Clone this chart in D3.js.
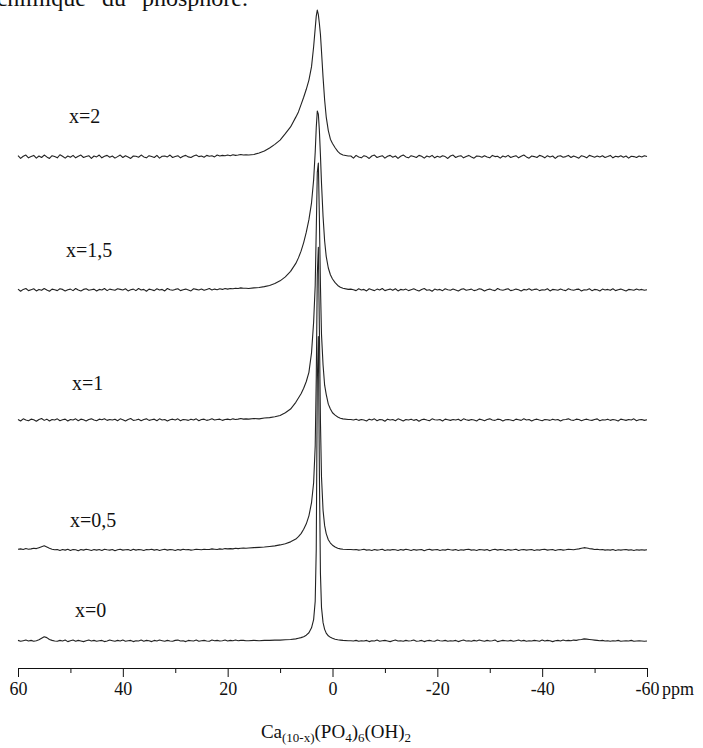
<!DOCTYPE html>
<html lang="fr">
<head>
<meta charset="utf-8">
<script src="https://d3js.org/d3.v7.min.js"></script>
<style>
  body { margin: 0; background: #fff; }
  svg { display: block; }
  .spec { fill: none; stroke: #222; stroke-width: 1.1; stroke-linejoin: round; }
  .lbl { font-family: "Liberation Serif", serif; font-size: 20px; fill: #111; }
  .axis text { font-family: "Liberation Serif", serif; font-size: 18px; fill: #111; }
  .axis path, .axis line { stroke: #111; stroke-width: 1; }
</style>
</head>
<body>
<div id="chart"></div>
<script>
var width = 703, height = 748;

// chemical shift sampling (ppm): left baseline, peak region, right baseline
var ppmLeft = [60,59.5,59,58.5,58,57.5,57,56.5,56,55.5,55,54.5,54,53.5,53,52.5,52,51.5,51,50.5,50,49.5,49,48.5,48,47.5,47,46.5,46,45.5,45,44.5,44,43.5,43,42.5,42,41.5,41,40.5,40,39.5,39,38.5,38,37.5,37,36.5,36,35.5,35,34.5,34,33.5,33,32.5,32,31.5,31,30.5,30,29.5,29,28.5,28,27.5,27,26.5,26,25.5,25,24.5,24,23.5,23,22.5,22,21.5,21,20.5,20,19.5,19,18.5,18,17.5,17,16.5];
var ppmPeak = [16,15,14,13,12,11,10,9,8,7,6.5,6,5.5,5,4.5,4,3.6,3.3,3.1,2.9,2.7,2.5,2.3,2.1,1.8,1.5,1.2,0.8,0.4,0,-0.5,-1,-1.5,-2,-3];
var ppmRight = [-3.5,-4,-4.5,-5,-5.5,-6,-6.5,-7,-7.5,-8,-8.5,-9,-9.5,-10,-10.5,-11,-11.5,-12,-12.5,-13,-13.5,-14,-14.5,-15,-15.5,-16,-16.5,-17,-17.5,-18,-18.5,-19,-19.5,-20,-20.5,-21,-21.5,-22,-22.5,-23,-23.5,-24,-24.5,-25,-25.5,-26,-26.5,-27,-27.5,-28,-28.5,-29,-29.5,-30,-30.5,-31,-31.5,-32,-32.5,-33,-33.5,-34,-34.5,-35,-35.5,-36,-36.5,-37,-37.5,-38,-38.5,-39,-39.5,-40,-40.5,-41,-41.5,-42,-42.5,-43,-43.5,-44,-44.5,-45,-45.5,-46,-46.5,-47,-47.5,-48,-48.5,-49,-49.5,-50,-50.5,-51,-51.5,-52,-52.5,-53,-53.5,-54,-54.5,-55,-55.5,-56,-56.5,-57,-57.5,-58,-58.5,-59,-59.5,-60];

// intensities, x=0 peak = 100
// baselines are in tenths of that unit, peak regions in units
var x0Left = [2,-1,1,3,0,2,-1,1,4,9, 14,11,5,2,0,-1,2,0,3,-2, 1,3,-1,2,0,-2,1,3,0,2, -1,1,2,-2,0,3,1,-1,2,0, 3,-1,1,2,-2,1,0,3,-1,2, 1,-2,2,0,3,1,-1,2,0,-1, 2,3,0,1,-2,2,1,0,3,-1, 1,2,0,-1,3,1,2,0,1,3, 0,2,1,3,1,2,2,1];
var x0Peak = [0.1,0.2,0.1,0.2,0.2,0.3,0.3,0.4,0.5,0.7,0.9,1.1,1.4,1.9,2.7,4.3,7,13,30,85,99.5,55,22,11,6,3.8,2.6,1.7,1.2,0.9,0.6,0.4,0.3,0.2,0.1];
var x0Right = [1,0,2,-1,1,0,2,-2,1,0, 3,-1,1,2,0,-2,1,3,0,1, -1,2,0,1,3,-1,0,2,-2,1, 2,0,-1,3,1,0,2,-1,1,0, 2,-2,1,3,0,1,-1,2,0,3, 1,-1,2,0,1,3,-2,0,2,1, 0,2,-1,1,3,0,2,-1,1,0, 2,1,-1,3,0,2,1,-2,1,2, 0,3,1,2,1,3,2,4,5,7, 6,5,4,3,2,1,2,0,1,-1, 1,0,2,-1,0,1,0,2,-1,0, 1,0,-1,0];

var x05Left = [3,4,2,5,3,4,6,5,8,11, 14,10,6,3,1,2,-1,2,0,3, -1,2,1,-2,2,0,3,1,-1,2, 0,2,-1,3,1,0,2,-2,1,3, 0,1,2,-1,3,0,2,1,-1,2, 1,3,0,2,-1,1,3,0,2,1, -1,2,0,3,1,2,0,1,3,2, 1,3,2,2,4,3,2,4,3,5, 4,5,4,6,5,6,7,6];
var x05Peak = [0.7,0.8,0.9,1.0,1.2,1.4,1.7,2.1,2.7,3.6,4.4,5.4,6.8,8.6,11.2,15.5,22,34,56,90,99,72,42,24,13,8,5.4,3.4,2.3,1.6,1.0,0.6,0.4,0.3,0.2];
var x05Right = [2,1,2,0,1,3,0,1,-1,2, 0,1,3,-1,1,0,2,1,-1,2, 0,3,1,-1,2,0,1,2,-2,1, 3,0,1,2,-1,1,0,3,1,0, 2,-1,1,0,2,3,0,1,-1,2, 1,0,2,-2,1,3,0,2,1,-1, 2,0,1,3,-1,1,2,0,1,2, -1,1,0,2,3,0,1,2,-1,1, 2,0,1,3,2,1,3,4,6,8, 7,5,4,2,3,1,2,0,1,0, 2,-1,1,0,1,2,0,1,-1,1, 0,1,0,1];

var x1Left = [2,-3,4,0,-2,3,1,-4,2,5, -1,3,-3,2,0,4,-2,1,3,-3, 2,0,4,-2,3,1,-3,2,4,0, -2,3,1,4,-1,2,0,3,-2,4, 1,-3,2,5,-1,0,3,-2,2,4, -1,1,3,-2,4,0,2,-3,1,3, 0,4,-2,2,1,-1,3,0,4,-2, 2,3,-1,1,4,0,2,3,-1,2, 3,1,4,2,3,5,3,4];
var x1Peak = [0.3,0.5,0.4,0.7,0.8,1.1,1.5,2.4,3.6,5.8,7.2,8.6,10.4,12.6,15.6,22,32,44,62,81,84,66,44,28,18,11.4,8.4,5.2,3.6,2.4,1.6,1.0,0.6,0.4,0.2];
var x1Right = [2,0,3,-1,2,0,-3,3,0,4, -2,2,1,-4,3,0,2,-2,4,1, -3,2,0,3,-1,2,-4,1,3,0, -2,4,1,0,2,-3,3,1,-1,2, 0,3,-2,4,1,-1,2,0,-3,3, 1,-2,2,4,0,-1,3,2,-3,1, 2,0,-2,3,1,-1,4,0,2,-3, 1,3,0,-2,2,1,-1,3,0,2, -3,1,2,4,0,-1,3,2,-2,1, 3,0,-1,2,4,-2,1,0,3,-1, 2,0,-3,3,1,-1,2,0,4,-2, 1,2,-1,1];

var x15Left = [3,-4,2,5,-2,1,4,-3,2,-1, 5,0,-4,3,1,-2,4,2,-3,1, 3,-2,5,0,-3,2,4,-1,1,3, -3,2,0,5,-2,3,1,-1,4,2, 0,4,-3,1,3,-2,5,0,2,-4, 3,1,-2,4,0,2,-3,5,1,-1, 2,4,-2,1,3,0,-3,4,2,0, 3,-1,2,5,0,3,1,4,2,5, 3,5,4,6,5,7,6,6];
var x15Peak = [0.5,0.7,0.8,1.1,1.5,2.1,3.0,4.3,6.1,8.7,10.5,12.7,15.5,18.9,23,28.5,36,45,53,58.5,57.5,52,44,35,24,16,11,7.2,5.0,3.6,2.4,1.5,0.9,0.6,0.2];
var x15Right = [3,1,-2,4,0,2,-3,4,1,-2, 3,0,5,-2,1,3,-1,4,-3,2, 0,3,-2,1,4,0,-3,2,5,-1, 1,-4,3,0,2,-2,4,1,-1,3, 0,-3,2,4,-1,1,3,-2,0,4, 2,-3,1,3,0,-2,5,1,-1,2, 4,-2,0,3,1,-3,2,0,4,-1, 2,3,-2,1,0,4,-3,2,1,-1, 3,0,-2,4,1,-1,2,3,-3,1, 0,4,-2,2,1,-3,3,0,2,-1, 4,-2,1,3,0,-3,2,1,-1,3, 0,2,-1,1];

var x2Left = [4,-5,2,6,-3,1,5,-4,3,-2, 6,0,-5,4,1,-3,7,2,-4,3, -1,5,-3,2,6,-2,1,4,-5,3, 0,6,-3,2,5,-1,3,-4,1,6, -2,4,0,-5,3,2,-1,6,0,-3, 4,1,-2,5,-4,2,3,0,6,-2, 1,4,-3,2,5,0,-2,3,6,1, 3,-1,5,2,4,0,6,3,5,4, 6,4,7,5,6,8,6,7];
var x2Peak = [0.6,0.8,1.3,1.9,2.9,4.1,5.5,7.6,9.8,13.0,14.7,17.1,19.5,22.1,25.1,29.5,36,42,46,48,46.5,43.5,40,34.5,26,18.6,13.1,8.6,5.8,4.4,3.0,1.8,1.0,0.6,0.3];
var x2Right = [3,-4,5,0,-3,4,1,-5,3,6, -2,1,4,-4,2,5,-1,3,-5,2, 6,0,-3,4,1,-2,5,2,-4,3, 0,5,-3,2,-1,4,1,-5,3,6, -2,2,4,-3,1,5,0,-4,3,2, -1,4,0,-3,5,1,2,-4,3,0, 5,-2,1,4,-3,2,6,0,-4,3, 1,-2,5,2,-3,4,0,3,-5,2, 4,-1,1,5,-2,3,0,-4,4,1, -3,5,2,-1,3,0,4,-2,1,5, -3,2,0,4,-1,3,-4,2,1,-2, 3,0,4,1];

var seriesNames = ["x=0", "x=0,5", "x=1", "x=1,5", "x=2"];
var seriesParts = [
  [x0Left, x0Peak, x0Right],
  [x05Left, x05Peak, x05Right],
  [x1Left, x1Peak, x1Right],
  [x15Left, x15Peak, x15Right],
  [x2Left, x2Peak, x2Right]
];
// vertical stacking offset of each trace (intensity units)
var offsets = [0, 29.7, 72.2, 114.7, 158.2];

var majorTicks = [60, 40, 20, 0, -20, -40, -60];
var minorTicks = [50, 30, 10, -10, -30, -50];

// label placement (px): left x, baseline y
var labelPos = [[75, 617], [70, 527], [72, 390], [66, 257], [69, 123]];

var svg = d3.select("#chart").append("svg")
  .attr("width", width)
  .attr("height", height);

var x = d3.scaleLinear().domain([60, -60]).range([18, 647]);
var y = d3.scaleLinear().domain([0, 100]).range([641, 335]);

// bottom of the caption line above the figure, cut by the crop
svg.append("text")
  .attr("x", 248).attr("y", 6)
  .attr("text-anchor", "end")
  .style("font-family", "'Liberation Serif', serif")
  .style("font-size", "24px")
  .style("word-spacing", "10px")
  .style("fill", "#111")
  .text("chimique du phosphore.");

function zipPart(grid, vals, k) {
  return grid.map(function(p, j) { return [p, vals[j] * k]; })
    .filter(function(d) { return !isNaN(d[1]); });
}

var g = svg.append("g");

seriesParts.forEach(function(parts, i) {
  var pts = zipPart(ppmLeft, parts[0], 0.1)
    .concat(zipPart(ppmPeak, parts[1], 1))
    .concat(zipPart(ppmRight, parts[2], 0.1));
  var line = d3.line()
    .x(function(d) { return x(d[0]); })
    .y(function(d) { return y(d[1] + offsets[i]); });
  g.append("path")
    .attr("class", "spec")
    .attr("d", line(pts));

  g.append("text")
    .attr("class", "lbl")
    .attr("x", labelPos[i][0])
    .attr("y", labelPos[i][1])
    .text(seriesNames[i]);
});

// axis
var axisY = 668;
svg.append("g")
  .attr("class", "axis")
  .attr("transform", "translate(0," + axisY + ")")
  .call(d3.axisBottom(x).tickValues(minorTicks).tickSize(5).tickSizeOuter(0).tickFormat(""));

svg.append("g")
  .attr("class", "axis")
  .attr("transform", "translate(0," + axisY + ")")
  .call(d3.axisBottom(x).tickValues(majorTicks).tickSize(9).tickSizeOuter(0).tickPadding(5)
    .tickFormat(function(d) { return String(d); }));

svg.append("text")
  .attr("x", 662).attr("y", axisY + 27)
  .style("font-family", "'Liberation Serif', serif")
  .style("font-size", "18px")
  .style("fill", "#111")
  .text("ppm");

// formula under the axis
var title = svg.append("text")
  .attr("x", 336).attr("y", 738)
  .attr("text-anchor", "middle")
  .style("font-family", "'Liberation Serif', serif")
  .style("font-size", "19px")
  .style("fill", "#111");

var parts = [["Ca", 0], ["(10-x)", 1], ["(PO", 0], ["4", 1], [")", 0], ["6", 1], ["(OH)", 0], ["2", 1]];
var wasSub = false;
parts.forEach(function(p) {
  var t = title.append("tspan").text(p[0]);
  if (p[1]) {
    t.style("font-size", "13px").attr("dy", wasSub ? 0 : 4);
    wasSub = true;
  } else {
    t.attr("dy", wasSub ? -4 : 0);
    wasSub = false;
  }
});
</script>
</body>
</html>
